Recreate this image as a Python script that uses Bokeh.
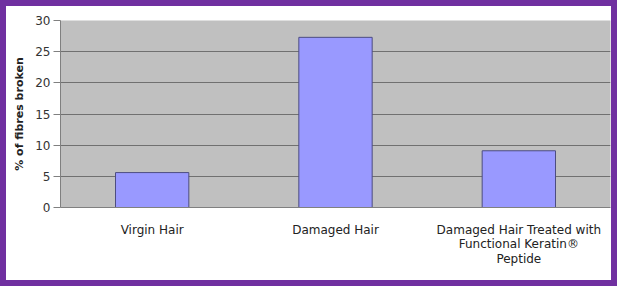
from bokeh.plotting import figure
from bokeh.models import Range1d, FactorRange, ColumnDataSource, FixedTicker
from bokeh.embed import file_html
from bokeh.resources import INLINE

categories = ["Virgin Hair", "Damaged Hair", "Damaged Hair Treated with\nFunctional Keratin®\nPeptide"]
values = [5.6, 27.3, 9.1]
y_ticks = [0, 5, 10, 15, 20, 25, 30]

src = ColumnDataSource(dict(cat=categories, val=values))

p = figure(width=617, height=286, x_range=FactorRange(*categories, range_padding=0),
           y_range=Range1d(0, 30), output_backend="svg", toolbar_location=None,
           min_border_left=54, min_border_right=13, min_border_top=14, min_border_bottom=85)
p.styles = {"border": "6px solid #7030A0"}
p.background_fill_color = "#C0C0C0"
p.border_fill_color = "white"
p.outline_line_color = None

p.vbar(x="cat", top="val", width=0.4, source=src, fill_color="#9999FF",
       line_color="#4D4D80", line_width=1)

p.xgrid.grid_line_color = None
p.ygrid.grid_line_color = "#707070"
p.ygrid.grid_line_width = 1

p.yaxis.ticker = FixedTicker(ticks=y_ticks)
p.yaxis.axis_label = "% of fibres broken"
p.yaxis.axis_label_text_font = "DejaVu Sans"
p.yaxis.axis_label_text_font_style = "bold"
p.yaxis.axis_label_text_font_size = "11px"
p.yaxis.axis_label_text_color = "#222222"
p.yaxis.axis_label_standoff = 6
p.yaxis.major_label_text_font = "DejaVu Sans"
p.yaxis.major_label_text_font_size = "12px"
p.yaxis.major_label_text_color = "#333333"
p.yaxis.axis_line_color = "#808080"
p.yaxis.major_tick_line_color = "#808080"
p.yaxis.major_tick_out = 7
p.yaxis.major_tick_in = 0
p.yaxis.minor_tick_line_color = None
p.yaxis.major_label_standoff = 3

p.xaxis.axis_line_color = "#808080"
p.xaxis.major_tick_line_color = None
p.xaxis.major_label_text_font = "DejaVu Sans"
p.xaxis.major_label_text_font_size = "12px"
p.xaxis.major_label_text_color = "#222222"
p.xaxis.major_label_text_line_height = 1.05
p.xaxis.major_label_standoff = 9

open("out.html", "w").write(file_html(p, INLINE))
